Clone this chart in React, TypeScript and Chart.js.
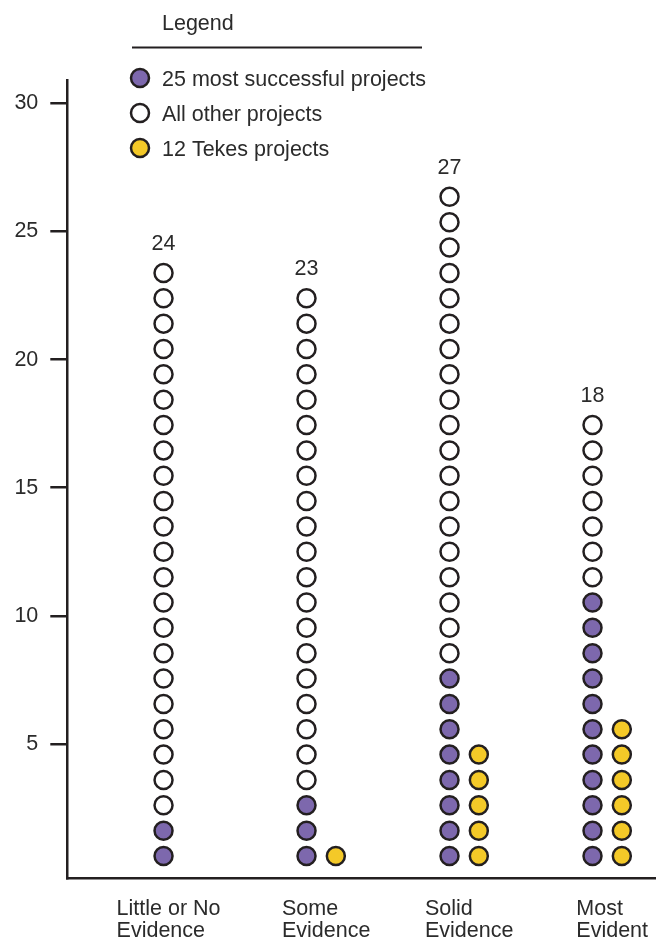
import React, { useEffect, useRef } from "react";
import { Chart, registerables } from "chart.js";

Chart.register(...registerables);

// ---- data ----
const categories: string[][] = [
  ["Little or No", "Evidence"],
  ["Some", "Evidence"],
  ["Solid", "Evidence"],
  ["Most", "Evident"],
];
const totalProjects = [24, 23, 27, 18];
const successfulProjects = [2, 3, 8, 11];
const tekesProjects = [0, 1, 5, 6];
const yTicks = [5, 10, 15, 20, 25, 30];
const seriesLabels = ["25 most successful projects", "All other projects", "12 Tekes projects"];
const legendTitle = "Legend";

// ---- style ----
const FONT = "'Liberation Sans', Arial, sans-serif";
const FS = 21.5;
const TEXT = "#2b2b2b";
const DARK = "#231f20";
const PURPLE = "#7d68ad";
const WHITE = "#ffffff";
const YELLOW = "#f4c928";
const TEKES_OFFSET = 0.205;
const CAP = FS * 0.358;

function buildPoints() {
  const succ: { x: number; y: number }[] = [];
  const other: { x: number; y: number }[] = [];
  const tekes: { x: number; y: number }[] = [];
  totalProjects.forEach((total, i) => {
    for (let k = 1; k <= total; k++) {
      if (k <= successfulProjects[i]) succ.push({ x: i, y: k - 0.5 });
      else other.push({ x: i, y: k - 0.5 });
    }
    for (let k = 1; k <= tekesProjects[i]; k++) tekes.push({ x: i + TEKES_OFFSET, y: k - 0.5 });
  });
  return { succ, other, tekes };
}

const overlayPlugin = {
  id: "overlay",
  afterDraw(chart: any) {
    const ctx = chart.ctx as CanvasRenderingContext2D;
    const xs = chart.scales.x;
    const yd = chart.scales.yd;
    ctx.save();
    ctx.fillStyle = TEXT;
    ctx.font = `${FS}px ${FONT}`;
    ctx.textBaseline = "alphabetic";

    // counts above columns
    ctx.textAlign = "center";
    totalProjects.forEach((n, i) => {
      const px = xs.getPixelForValue(i);
      const py = yd.getPixelForValue(n - 0.5) - 31;
      ctx.fillText(String(n), px, py + CAP);
    });

    // category labels (left-aligned block, centered on group)
    ctx.textAlign = "left";
    categories.forEach((lines, i) => {
      const center = tekesProjects[i] > 0 ? i + TEKES_OFFSET / 2 : i;
      const cx = xs.getPixelForValue(center) + 5;
      const w = Math.max(...lines.map((l) => ctx.measureText(l).width));
      const left = cx - w / 2;
      lines.forEach((l, j) => {
        ctx.fillText(l, left, chart.chartArea.bottom + 37 + j * 22);
      });
    });

    // legend
    ctx.fillText(legendTitle, 162, 30);
    ctx.strokeStyle = DARK;
    ctx.lineWidth = 2;
    ctx.beginPath();
    ctx.moveTo(132, 47.5);
    ctx.lineTo(422, 47.5);
    ctx.stroke();
    const ds = chart.data.datasets;
    ds.forEach((d: any, j: number) => {
      const cy = 78 + j * 35;
      ctx.beginPath();
      ctx.arc(140, cy, 9, 0, Math.PI * 2);
      ctx.fillStyle = d.backgroundColor;
      ctx.fill();
      ctx.lineWidth = 2.5;
      ctx.strokeStyle = DARK;
      ctx.stroke();
      ctx.fillStyle = TEXT;
      ctx.fillText(d.label, 162, cy + CAP);
    });
    ctx.restore();
  },
};

export default function App() {
  const ref = useRef<HTMLCanvasElement | null>(null);
  useEffect(() => {
    if (!ref.current) return;
    const { succ, other, tekes } = buildPoints();
    const pointStyle = {
      pointRadius: 9,
      pointHoverRadius: 9,
      borderWidth: 2.5,
      borderColor: DARK,
      showLine: false,
      yAxisID: "yd",
    };
    const chart = new Chart(ref.current, {
      type: "scatter",
      data: {
        datasets: [
          { label: seriesLabels[0], data: succ, backgroundColor: PURPLE, ...pointStyle },
          { label: seriesLabels[1], data: other, backgroundColor: WHITE, ...pointStyle },
          { label: seriesLabels[2], data: tekes, backgroundColor: YELLOW, ...pointStyle },
        ],
      },
      options: {
        animation: false,
        responsive: false,
        events: [],
        layout: { autoPadding: false, padding: { top: 80, left: 0, right: 0, bottom: 0 } },
        plugins: { legend: { display: false }, tooltip: { enabled: false } },
        scales: {
          x: {
            type: "linear",
            min: -0.673,
            max: 3.444,
            ticks: { display: false },
            grid: { display: false },
            border: { display: true, color: DARK, width: 2.5 },
            afterFit: (s: any) => {
              s.height = 62;
            },
          },
          y: {
            type: "linear",
            position: "left",
            min: -0.23,
            max: 30.91,
            afterBuildTicks: (s: any) => {
              s.ticks = yTicks.map((v) => ({ value: v }));
            },
            ticks: {
              padding: 12,
              color: TEXT,
              font: { family: FONT, size: FS },
              callback: (v: any) => String(v),
            },
            grid: {
              drawOnChartArea: false,
              drawTicks: true,
              tickLength: 17,
              lineWidth: 2.5,
              color: DARK,
            },
            border: { display: true, color: DARK, width: 2.5 },
            afterFit: (s: any) => {
              s.width = 67.3;
            },
          },
          yd: {
            type: "linear",
            display: false,
            min: -0.367,
            max: 31.11,
          },
        },
      },
      plugins: [overlayPlugin],
    } as any);
    return () => chart.destroy();
  }, []);
  return (
    <div style={{ position: "absolute", left: 0, top: 0, width: 656, height: 940, background: "#fff" }}>
      <canvas ref={ref} width={656} height={940} style={{ display: "block" }} />
    </div>
  );
}
